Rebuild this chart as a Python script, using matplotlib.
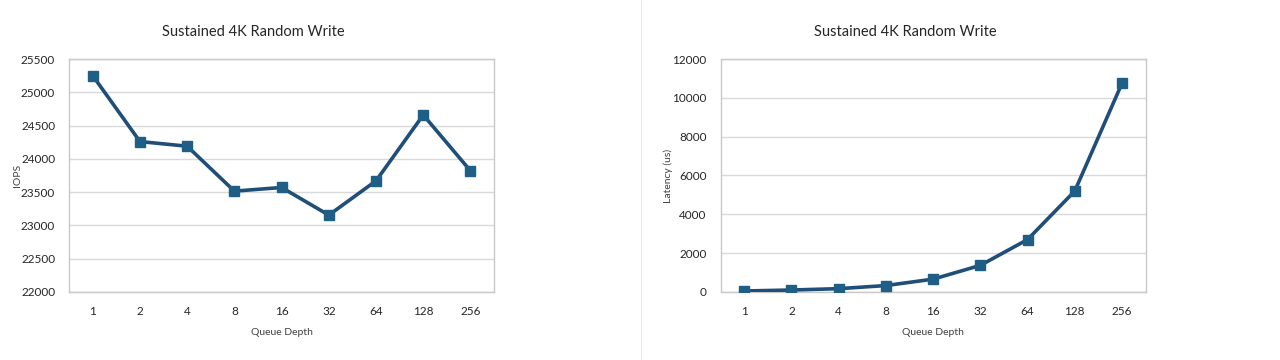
import matplotlib.pyplot as plt
from matplotlib.lines import Line2D

plt.rcParams['font.family'] = ['Lato', 'DejaVu Sans']

# dados
queue_depth = ['1', '2', '4', '8', '16', '32', '64', '128', '256']
iops = [25250, 24260, 24190, 23515, 23570, 23155, 23670, 24660, 23820]
latency = [50, 100, 170, 330, 660, 1370, 2700, 5200, 10750]

line_color = '#1f4e79'
marker_color = '#1f5f86'
grid_color = '#d9d9d9'

fig = plt.figure(figsize=(12.8, 3.6), dpi=100)
fig.patch.set_facecolor('white')

# linha fraca entre os dois graficos (fundo de planilha)
fig.add_artist(Line2D([0.5005, 0.5005], [0, 1], color='#ececec', lw=0.8))

ax1 = fig.add_axes([0.054, 0.189, 0.332, 0.647])
ax2 = fig.add_axes([0.563, 0.189, 0.332, 0.647])


def estilo(ax, valores, ylabel, ylim, step, titulo_x):
    x = range(len(queue_depth))
    ax.plot(x, valores, color=line_color, lw=2.6, marker='s', markersize=7,
            markerfacecolor=marker_color, markeredgecolor=marker_color, zorder=3)
    ax.set_xlim(-0.5, len(queue_depth) - 0.5)
    ax.set_ylim(*ylim)
    ax.set_yticks(range(ylim[0], ylim[1] + 1, step))
    ax.set_xticks(list(x))
    ax.set_xticklabels(queue_depth)
    ax.tick_params(axis='x', length=0, labelsize=8.5, colors='#262626', pad=10)
    ax.tick_params(axis='y', length=0, labelsize=8.5, colors='#262626', pad=10)
    ax.grid(axis='y', color=grid_color, lw=1)
    ax.set_axisbelow(True)
    for s in ax.spines.values():
        s.set_color('#c8c8c8')
        s.set_linewidth(1)
    ax.set_xlabel('Queue Depth', fontsize=7.5, color='#404040', labelpad=8)
    ax.set_ylabel(ylabel, fontsize=7.5, color='#404040')
    ax.yaxis.set_label_coords(-0.112, 0.5)
    # titulo centrado na area do grafico inteiro, nao so no eixo
    fig.text(titulo_x, 0.912, 'Sustained 4K Random Write', fontsize=10.5,
             color='#262626', ha='center', va='center')


estilo(ax1, iops, 'IOPS', (22000, 25500), 500, 253.5 / 1280)
estilo(ax2, latency, 'Latency (us)', (0, 12000), 2000, 905 / 1280)

fig.savefig('out.png', dpi=100)
